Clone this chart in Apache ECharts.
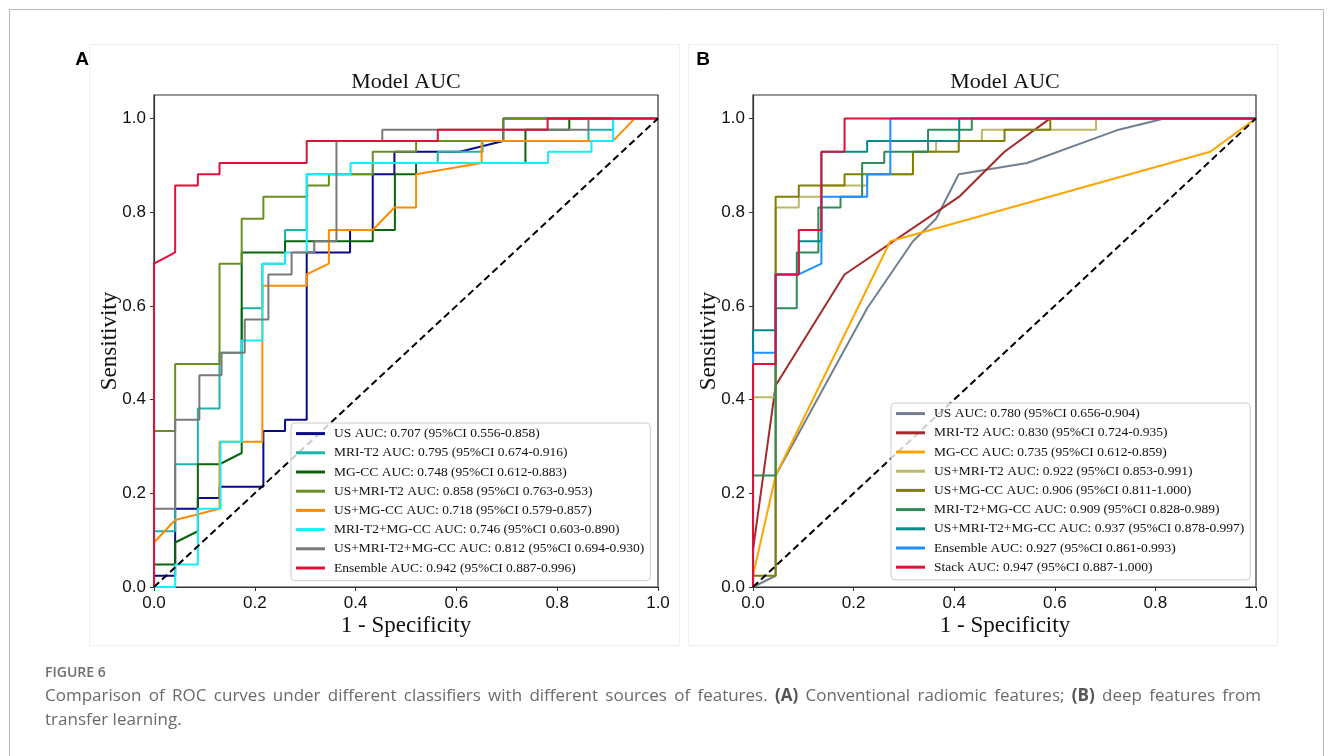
<!DOCTYPE html>
<html>
<head>
<meta charset="utf-8">
<script src="https://cdn.jsdelivr.net/npm/echarts@6/dist/echarts.min.js"></script>
<style>
  html, body { margin: 0; padding: 0; background: #fff; }
  #main { width: 1333px; height: 756px; }
</style>
</head>
<body>
<div id="main"></div>
<script>
// ---- panel A: conventional radiomic features ([1-specificity, sensitivity]) ----
var aUS      = [[0,0],[0,0.024],[0.042,0.024],[0.042,0.167],[0.087,0.167],[0.087,0.19],[0.13,0.19],[0.13,0.214],[0.217,0.214],[0.217,0.333],[0.26,0.333],[0.26,0.357],[0.303,0.357],[0.303,0.714],[0.389,0.714],[0.389,0.762],[0.434,0.762],[0.434,0.881],[0.477,0.881],[0.477,0.929],[0.607,0.929],[0.693,0.952],[0.693,1],[1,1]];
var aMRI     = [[0,0],[0,0.119],[0.042,0.119],[0.042,0.262],[0.087,0.262],[0.087,0.381],[0.13,0.381],[0.13,0.5],[0.174,0.5],[0.174,0.595],[0.215,0.595],[0.215,0.69],[0.26,0.69],[0.26,0.762],[0.303,0.762],[0.303,0.881],[0.434,0.881],[0.434,0.905],[0.563,0.905],[0.563,0.929],[0.652,0.929],[0.652,0.952],[0.862,0.952],[0.862,0.976],[0.911,0.976],[0.911,1],[1,1]];
var aMG      = [[0,0],[0,0.048],[0.042,0.048],[0.042,0.095],[0.087,0.119],[0.087,0.262],[0.13,0.262],[0.174,0.286],[0.174,0.714],[0.26,0.714],[0.26,0.738],[0.434,0.738],[0.434,0.762],[0.478,0.762],[0.478,0.881],[0.52,0.881],[0.52,0.905],[0.737,0.905],[0.737,0.976],[0.824,0.976],[0.824,1],[1,1]];
var aUSMRI   = [[0,0],[0,0.333],[0.042,0.333],[0.042,0.476],[0.13,0.476],[0.13,0.69],[0.174,0.69],[0.174,0.786],[0.217,0.786],[0.217,0.833],[0.304,0.833],[0.304,0.857],[0.347,0.857],[0.347,0.881],[0.434,0.881],[0.434,0.929],[0.52,0.929],[0.52,0.952],[0.693,0.952],[0.693,1],[1,1]];
var aUSMG    = [[0,0],[0,0.095],[0.042,0.143],[0.13,0.167],[0.13,0.31],[0.215,0.31],[0.215,0.643],[0.303,0.643],[0.303,0.667],[0.347,0.69],[0.347,0.762],[0.434,0.762],[0.477,0.81],[0.52,0.81],[0.52,0.881],[0.65,0.905],[0.65,0.952],[0.911,0.952],[0.954,1],[1,1]];
var aMRIMG   = [[0,0],[0.042,0],[0.042,0.048],[0.087,0.048],[0.087,0.167],[0.132,0.167],[0.132,0.31],[0.174,0.31],[0.174,0.526],[0.215,0.526],[0.215,0.69],[0.26,0.69],[0.26,0.714],[0.303,0.714],[0.303,0.881],[0.39,0.881],[0.39,0.905],[0.782,0.905],[0.782,0.929],[0.868,0.929],[0.868,0.952],[0.911,0.952],[0.911,1],[1,1]];
var aALL     = [[0,0],[0,0.167],[0.042,0.167],[0.042,0.357],[0.09,0.357],[0.09,0.452],[0.134,0.452],[0.134,0.5],[0.18,0.5],[0.18,0.571],[0.227,0.571],[0.227,0.667],[0.273,0.667],[0.273,0.714],[0.318,0.714],[0.318,0.738],[0.362,0.738],[0.362,0.952],[0.453,0.952],[0.453,0.976],[0.862,0.976],[0.862,1],[1,1]];
var aENS     = [[0,0],[0,0.69],[0.042,0.714],[0.042,0.857],[0.087,0.857],[0.087,0.881],[0.13,0.881],[0.13,0.905],[0.303,0.905],[0.303,0.952],[0.563,0.952],[0.563,0.976],[0.781,0.976],[0.781,1],[1,1]];

var namesA = [
  'US AUC: 0.707 (95%CI 0.556-0.858)',
  'MRI-T2 AUC: 0.795 (95%CI 0.674-0.916)',
  'MG-CC AUC: 0.748 (95%CI 0.612-0.883)',
  'US+MRI-T2 AUC: 0.858 (95%CI 0.763-0.953)',
  'US+MG-CC AUC: 0.718 (95%CI 0.579-0.857)',
  'MRI-T2+MG-CC AUC: 0.746 (95%CI 0.603-0.890)',
  'US+MRI-T2+MG-CC AUC: 0.812 (95%CI 0.694-0.930)',
  'Ensemble AUC: 0.942 (95%CI 0.887-0.996)'
];
var colorsA = ['#0a0a8a', '#20b2aa', '#0a630a', '#6b8e23', '#ff8c00', '#14eefc', '#7a7a7a', '#e0103a'];

// ---- panel B: deep features from transfer learning ----
var bUS      = [[0,0],[0.045,0.024],[0.045,0.238],[0.227,0.595],[0.318,0.738],[0.364,0.786],[0.409,0.881],[0.545,0.905],[0.727,0.976],[0.818,1],[1,1]];
var bMRI     = [[0,0],[0,0.079],[0.045,0.43],[0.182,0.667],[0.41,0.833],[0.5,0.929],[0.591,1],[1,1]];
var bMG      = [[0,0],[0,0.024],[0.045,0.238],[0.273,0.738],[0.909,0.929],[1,1]];
var bUSMRI   = [[0,0],[0,0.405],[0.045,0.405],[0.045,0.81],[0.091,0.81],[0.091,0.833],[0.136,0.833],[0.136,0.857],[0.227,0.857],[0.227,0.881],[0.318,0.881],[0.318,0.929],[0.364,0.929],[0.364,0.952],[0.455,0.952],[0.455,0.976],[0.682,0.976],[0.682,1],[1,1]];
var bUSMG    = [[0,0],[0,0.024],[0.045,0.024],[0.045,0.833],[0.091,0.833],[0.091,0.857],[0.182,0.857],[0.182,0.881],[0.318,0.881],[0.318,0.929],[0.409,0.929],[0.409,0.952],[0.5,0.952],[0.5,0.976],[0.591,0.976],[0.591,1],[1,1]];
var bMRIMG   = [[0,0],[0,0.238],[0.045,0.238],[0.045,0.595],[0.087,0.595],[0.087,0.714],[0.13,0.714],[0.13,0.81],[0.174,0.81],[0.174,0.833],[0.217,0.833],[0.217,0.905],[0.261,0.905],[0.261,0.929],[0.348,0.929],[0.348,0.976],[0.435,0.976],[0.435,1],[1,1]];
var bALL     = [[0,0],[0,0.548],[0.045,0.548],[0.045,0.667],[0.091,0.667],[0.091,0.738],[0.136,0.738],[0.136,0.929],[0.227,0.929],[0.227,0.952],[0.41,0.952],[0.41,1],[1,1]];
var bENS     = [[0,0],[0,0.5],[0.045,0.5],[0.045,0.667],[0.091,0.667],[0.136,0.69],[0.136,0.833],[0.227,0.833],[0.227,0.881],[0.273,0.881],[0.273,1],[1,1]];
var bSTACK   = [[0,0],[0,0.476],[0.045,0.476],[0.045,0.667],[0.091,0.667],[0.091,0.762],[0.136,0.762],[0.136,0.929],[0.182,0.929],[0.182,1],[1,1]];

var namesB = [
  'US AUC: 0.780 (95%CI 0.656-0.904)',
  'MRI-T2 AUC: 0.830 (95%CI 0.724-0.935)',
  'MG-CC AUC: 0.735 (95%CI 0.612-0.859)',
  'US+MRI-T2 AUC: 0.922 (95%CI 0.853-0.991)',
  'US+MG-CC AUC: 0.906 (95%CI 0.811-1.000)',
  'MRI-T2+MG-CC AUC: 0.909 (95%CI 0.828-0.989)',
  'US+MRI-T2+MG-CC AUC: 0.937 (95%CI 0.878-0.997)',
  'Ensemble AUC: 0.927 (95%CI 0.861-0.993)',
  'Stack AUC: 0.947 (95%CI 0.887-1.000)'
];
var colorsB = ['#708090', '#a52a2a', '#ffa500', '#bdb76b', '#808000', '#2e8b57', '#008b8b', '#1e90ff', '#e0103a'];

var chanceLine = [[0,0],[1,1]];
var tickValues = [0, 0.2, 0.4, 0.6, 0.8, 1.0];

// caption, line 1 is justified to the right edge; (A) and (B) are bold
var captionWords = ['Comparison', 'of', 'ROC', 'curves', 'under', 'different', 'classifiers', 'with', 'different',
    'sources', 'of', 'features.', '*(A)', 'Conventional', 'radiomic', 'features;', '*(B)', 'deep', 'features', 'from'];
var captionLine2 = 'transfer learning.';

var dataA = [aUS, aMRI, aMG, aUSMRI, aUSMG, aMRIMG, aALL, aENS];
var dataB = [bUS, bMRI, bMG, bUSMRI, bUSMG, bMRIMG, bALL, bENS, bSTACK];

var chart = echarts.init(document.getElementById('main'));

function makeX(idx) {
    return {
        type: 'value', gridIndex: idx, min: 0, max: 1, interval: 0.2,
        axisLine: { show: true, lineStyle: { color: '#333', width: 1.2 } },
        axisTick: { show: true, length: 4, lineStyle: { color: '#333' } },
        splitLine: { show: false },
        axisLabel: {
            margin: 8, color: '#111', fontSize: 17, fontFamily: 'Liberation Sans',
            formatter: function (v) { return v.toFixed(1); }
        }
    };
}
function makeY(idx) {
    return {
        type: 'value', gridIndex: idx, min: 0, max: 1.05,
        axisLine: { show: true, lineStyle: { color: '#333', width: 1.2 } },
        axisTick: { show: true, length: 4, lineStyle: { color: '#333' }, customValues: tickValues },
        splitLine: { show: false },
        axisLabel: {
            margin: 8, color: '#111', fontSize: 17, fontFamily: 'Liberation Sans',
            customValues: tickValues,
            formatter: function (v) { return v.toFixed(1); }
        }
    };
}
function makeLegend(names, left, top) {
    return {
        orient: 'vertical', left: left, top: top,
        data: names, icon: 'rect', itemWidth: 29, itemHeight: 3, itemGap: 0,
        padding: [1, 6, 3, 5],
        backgroundColor: 'rgba(255,255,255,0.8)', borderColor: '#cccccc', borderWidth: 1, borderRadius: 4,
        textStyle: { fontFamily: 'Liberation Serif', fontSize: 13.5, color: '#111', lineHeight: 19.2, padding: [0, 0, 0, 4] }
    };
}

var series = [];
for (var i = 0; i < dataA.length; i++) {
    series.push({ name: namesA[i], type: 'line', xAxisIndex: 0, yAxisIndex: 0, data: dataA[i],
        showSymbol: false, symbol: 'none', color: colorsA[i], lineStyle: { width: 2 } });
}
series.push({ name: 'chanceA', type: 'line', xAxisIndex: 0, yAxisIndex: 0, data: chanceLine, symbol: 'none',
    color: '#000', lineStyle: { width: 2, type: [7, 4] } });
for (var j = 0; j < dataB.length; j++) {
    series.push({ name: namesB[j], type: 'line', xAxisIndex: 1, yAxisIndex: 1, data: dataB[j],
        showSymbol: false, symbol: 'none', color: colorsB[j], lineStyle: { width: 2 } });
}
series.push({ name: 'chanceB', type: 'line', xAxisIndex: 1, yAxisIndex: 1, data: chanceLine, symbol: 'none',
    color: '#000', lineStyle: { width: 2, type: [7, 4] } });

// justify caption line 1 between x=45 and x=1261
var capFont = '17px "Open Sans"', capBold = 'bold 17px "Open Sans"';
var ctx = document.createElement('canvas').getContext('2d');
var wordW = [], totalW = 0;
captionWords.forEach(function (w) {
    ctx.font = w.charAt(0) === '*' ? capBold : capFont;
    var ww = ctx.measureText(w.replace('*', '')).width;
    wordW.push(ww); totalW += ww;
});
var gap = (1261 - 45 - totalW) / (captionWords.length - 1);
var captionEls = [], cx = 45;
captionWords.forEach(function (w, k) {
    var bold = w.charAt(0) === '*';
    captionEls.push({ type: 'text', x: cx, y: 696, silent: true,
        style: { text: w.replace('*', ''), font: bold ? capBold : capFont, fill: bold ? '#555' : '#6a6a6a', textVerticalAlign: 'middle' } });
    cx += wordW[k] + gap;
});

var serif = 'Liberation Serif';
var option = {
    backgroundColor: '#fff',
    animation: false,
    grid: [
        { left: 154, top: 95, width: 504, height: 492, show: true, borderColor: '#333', borderWidth: 1.2, backgroundColor: 'transparent' },
        { left: 753, top: 95, width: 503, height: 492, show: true, borderColor: '#333', borderWidth: 1.2, backgroundColor: 'transparent' }
    ],
    xAxis: [makeX(0), makeX(1)],
    yAxis: [makeY(0), makeY(1)],
    legend: [makeLegend(namesA, 291, 423), makeLegend(namesB, 891, 403)],
    series: series,
    graphic: [
        { type: 'rect', silent: true, z: -10, shape: { x: 9.5, y: 9.5, width: 1314, height: 800 }, style: { fill: 'none', stroke: '#b8b8b8', lineWidth: 1 } },
        { type: 'rect', silent: true, z: -10, shape: { x: 89.5, y: 44.5, width: 590, height: 601 }, style: { fill: 'none', stroke: '#eeeeee', lineWidth: 1 } },
        { type: 'rect', silent: true, z: -10, shape: { x: 688.5, y: 44.5, width: 589, height: 601 }, style: { fill: 'none', stroke: '#eeeeee', lineWidth: 1 } },
        { type: 'text', x: 82, y: 60, style: { text: 'A', font: 'bold 19px "Liberation Sans"', fill: '#000', textAlign: 'center', textVerticalAlign: 'middle' } },
        { type: 'text', x: 703, y: 60, style: { text: 'B', font: 'bold 19px "Liberation Sans"', fill: '#000', textAlign: 'center', textVerticalAlign: 'middle' } },
        { type: 'text', x: 406, y: 82, style: { text: 'Model AUC', font: '22px "' + serif + '"', fill: '#111', textAlign: 'center', textVerticalAlign: 'middle' } },
        { type: 'text', x: 1005, y: 82, style: { text: 'Model AUC', font: '22px "' + serif + '"', fill: '#111', textAlign: 'center', textVerticalAlign: 'middle' } },
        { type: 'text', x: 406, y: 626, style: { text: '1 - Specificity', font: '23px "' + serif + '"', fill: '#111', textAlign: 'center', textVerticalAlign: 'middle' } },
        { type: 'text', x: 1005, y: 626, style: { text: '1 - Specificity', font: '23px "' + serif + '"', fill: '#111', textAlign: 'center', textVerticalAlign: 'middle' } },
        { type: 'text', x: 110, y: 341, rotation: Math.PI / 2, style: { text: 'Sensitivity', font: '23px "' + serif + '"', fill: '#111', textAlign: 'center', textVerticalAlign: 'middle' } },
        { type: 'text', x: 709, y: 341, rotation: Math.PI / 2, style: { text: 'Sensitivity', font: '23px "' + serif + '"', fill: '#111', textAlign: 'center', textVerticalAlign: 'middle' } },
        { type: 'text', x: 45, y: 673, style: { text: 'FIGURE 6', font: '600 14px "Open Sans"', fill: '#6e6e6e', textVerticalAlign: 'middle' } },
        { type: 'text', x: 45, y: 720, style: { text: captionLine2, font: capFont, fill: '#6a6a6a', textVerticalAlign: 'middle' } }
    ].concat(captionEls)
};
chart.setOption(option);
</script>
</body>
</html>
